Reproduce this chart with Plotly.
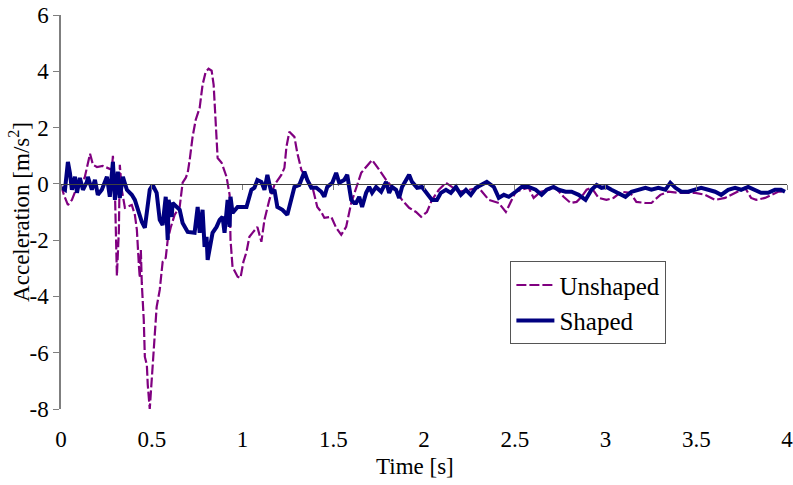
import plotly.graph_objects as go

# Unshaped response (time [s], acceleration [m/s^2])
t_unshaped = [0.00, 0.016, 0.038, 0.06, 0.082, 0.104, 0.13, 0.148, 0.16, 0.176, 0.198, 0.23, 0.258, 0.28,
              0.286, 0.297, 0.308, 0.319, 0.324, 0.335, 0.352, 0.374, 0.39, 0.407, 0.418, 0.429, 0.434,
              0.44, 0.445, 0.456, 0.462, 0.473, 0.478, 0.489, 0.5, 0.511, 0.527, 0.544, 0.56, 0.577, 0.588,
              0.604, 0.626, 0.654, 0.67, 0.687, 0.698, 0.709, 0.725, 0.742, 0.764, 0.78, 0.797, 0.813,
              0.83, 0.841, 0.852, 0.863, 0.885, 0.912, 0.929, 0.934, 0.945, 0.973, 0.989, 1.005, 1.022,
              1.038, 1.055, 1.082, 1.104, 1.121, 1.148, 1.176, 1.214, 1.231, 1.242, 1.258, 1.286, 1.302,
              1.324, 1.357, 1.385, 1.412, 1.434, 1.451, 1.489, 1.516, 1.544, 1.571, 1.599, 1.626, 1.654,
              1.681, 1.714, 1.753, 1.791, 1.846, 1.879, 1.918, 1.956, 1.984, 2.016, 2.044, 2.082, 2.121,
              2.154, 2.192, 2.247, 2.302, 2.357, 2.412, 2.451, 2.478, 2.505, 2.538, 2.577, 2.604, 2.643,
              2.687, 2.725, 2.769, 2.808, 2.841, 2.868, 2.896, 2.923, 2.962, 3.005, 3.044, 3.088, 3.137,
              3.17, 3.22, 3.253, 3.302, 3.346, 3.401, 3.445, 3.495, 3.549, 3.604, 3.659, 3.692, 3.769,
              3.802, 3.83, 3.879, 3.912, 3.951, 3.989]
a_unshaped = [-0.04, -0.39, -0.75, -0.57, -0.21, 0.07, 0.21, 0.78, 1.07, 0.68, 0.6, 0.64, 0.57, 0.5,
              1.0, -0.21, -3.27, -1.63, 0.68, -0.21, -0.85, -0.78, -0.75, -1.1, -1.63, -2.88, -3.34,
              -2.35, -3.52, -4.83, -6.15, -6.43, -7.14, -8.0, -6.97, -5.9, -4.37, -3.77, -2.77, -2.63, -1.99,
              -1.56, -1.1, -0.82, 0.04, 0.21, 0.39, 0.85, 1.67, 2.27, 2.7, 3.52, 3.98, 4.09,
              4.02, 3.52, 2.03, 0.92, 0.75, 0.25, -0.39, -1.99, -2.95, -3.3, -3.34, -2.77, -2.42,
              -1.88, -1.74, -1.53, -2.06, -1.28, -0.57, -0.04, 0.32, 0.57, 1.31, 1.85, 1.67, 1.1,
              0.5, 0.14, -0.11, -0.82, -1.0, -1.21, -1.17, -1.56, -1.81, -1.53, -0.68, -0.14, 0.39,
              0.6, 0.85, 0.5, 0.14, -0.28, -0.57, -0.85, -1.0, -1.17, -1.0, -0.57, -0.21, 0.04,
              -0.11, -0.28, -0.21, -0.14, -0.57, -0.68, -1.0, -0.64, -0.28, -0.21, -0.14, -0.5, -0.28,
              -0.21, -0.14, -0.46, -0.68, -0.64, -0.46, -0.21, -0.14, -0.5, -0.57, -0.5, -0.28, -0.32,
              -0.64, -0.68, -0.68, -0.39, -0.28, -0.32, -0.32, -0.32, -0.39, -0.57, -0.5, -0.39, -0.14,
              -0.5, -0.57, -0.5, -0.39, -0.28, -0.28]

# Shaped response
t_shaped = [0.005, 0.022, 0.038, 0.049, 0.06, 0.077, 0.088, 0.104, 0.121, 0.143, 0.148, 0.17, 0.187,
            0.203, 0.225, 0.242, 0.253, 0.269, 0.286, 0.297, 0.313, 0.324, 0.341, 0.363, 0.39, 0.407,
            0.423, 0.445, 0.462, 0.478, 0.489, 0.505, 0.527, 0.544, 0.56, 0.577, 0.588, 0.593, 0.61,
            0.615, 0.637, 0.654, 0.67, 0.698, 0.736, 0.753, 0.764, 0.78, 0.791, 0.802, 0.808, 0.819,
            0.835, 0.857, 0.874, 0.89, 0.901, 0.918, 0.929, 0.934, 0.945, 0.973, 1.0, 1.022, 1.049,
            1.066, 1.082, 1.104, 1.121, 1.137, 1.159, 1.176, 1.192, 1.22, 1.247, 1.269, 1.286, 1.313,
            1.341, 1.357, 1.379, 1.407, 1.434, 1.451, 1.467, 1.495, 1.516, 1.533, 1.56, 1.577, 1.599,
            1.615, 1.626, 1.643, 1.659, 1.681, 1.698, 1.714, 1.736, 1.764, 1.791, 1.808, 1.824, 1.846,
            1.863, 1.879, 1.901, 1.918, 1.934, 1.962, 1.989, 2.016, 2.044, 2.071, 2.093, 2.121, 2.148,
            2.176, 2.203, 2.231, 2.258, 2.286, 2.313, 2.346, 2.385, 2.412, 2.44, 2.467, 2.505, 2.538,
            2.577, 2.615, 2.648, 2.676, 2.714, 2.742, 2.78, 2.813, 2.852, 2.89, 2.923, 2.951, 2.978,
            3.005, 3.033, 3.071, 3.11, 3.143, 3.181, 3.22, 3.253, 3.291, 3.33, 3.357, 3.385, 3.418,
            3.456, 3.495, 3.527, 3.566, 3.604, 3.637, 3.676, 3.714, 3.747, 3.786, 3.824, 3.857, 3.896,
            3.934, 3.967, 3.989]
a_shaped = [-0.14, -0.21, 0.78, 0.39, -0.21, 0.25, -0.32, 0.21, -0.21, 0.07, 0.25, -0.21, 0.14,
            -0.39, -0.21, 0.07, 0.25, -0.46, 0.78, -0.57, 0.43, -0.5, 0.25, -0.21, -0.39, -0.57,
            -0.92, -1.35, -1.56, -0.82, -0.21, -0.04, -0.32, -1.28, -1.46, -0.46, -1.99, -0.57, -1.17,
            -0.68, -0.82, -0.92, -1.39, -1.71, -1.74, -0.82, -1.74, -0.92, -2.24, -1.88, -2.7, -2.24,
            -1.74, -1.53, -1.28, -1.17, -1.74, -0.57, -1.53, -0.46, -1.03, -0.82, -0.82, -0.82, -0.21,
            -0.14, 0.14, 0.07, -0.21, 0.32, -0.32, -0.21, -0.82, -0.92, -1.1, -0.57, -0.11, -0.04,
            0.43, 0.14, -0.14, -0.14, -0.28, -0.46, -0.11, 0.04, 0.39, 0.04, 0.14, 0.32, -0.57,
            -0.68, -0.68, -0.46, -0.82, -0.32, -0.11, -0.32, -0.11, -0.28, 0.07, -0.32, -0.11, -0.21,
            -0.5, -0.11, 0.14, 0.32, 0.07, -0.14, -0.11, -0.32, -0.57, -0.57, -0.32, -0.21, -0.32,
            -0.11, -0.39, -0.21, -0.39, -0.14, -0.04, 0.07, -0.11, -0.5, -0.39, -0.46, -0.28, -0.11,
            -0.11, -0.21, -0.39, -0.21, -0.11, -0.21, -0.28, -0.28, -0.39, -0.57, -0.21, -0.04, -0.14,
            -0.11, -0.21, -0.32, -0.46, -0.28, -0.21, -0.14, -0.21, -0.14, -0.21, 0.04, -0.14, -0.28,
            -0.28, -0.21, -0.14, -0.21, -0.28, -0.39, -0.21, -0.14, -0.21, -0.11, -0.21, -0.32, -0.32,
            -0.21, -0.21, -0.28]

x_ticks = [0, 0.5, 1, 1.5, 2, 2.5, 3, 3.5, 4]
x_tick_labels = ["0", "0.5", "1", "1.5", "2", "2.5", "3", "3.5", "4"]
y_ticks = [-8, -6, -4, -2, 0, 2, 4, 6]
y_tick_labels = ["-8", "-6", "-4", "-2", "0", "2", "4", "6"]

FONT = "'Liberation Serif', 'Times New Roman', Times, 'DejaVu Serif', serif"
AXIS_COL = "#7f7f7f"

fig = go.Figure()
fig.add_trace(go.Scatter(x=t_unshaped, y=a_unshaped, mode="lines", name="Unshaped",
                         line=dict(color="#800080", width=2.2, dash="10px,3px")))
fig.add_trace(go.Scatter(x=t_shaped, y=a_shaped, mode="lines", name="Shaped",
                         line=dict(color="#000080", width=4)))

fig.update_layout(
    width=793, height=485,
    margin=dict(l=61, r=6, t=15, b=76, autoexpand=False),
    paper_bgcolor="white", plot_bgcolor="white",
    font=dict(family=FONT, size=23, color="black"),
    showlegend=True,
    legend=dict(x=0.619, y=0.375, xanchor="left", yanchor="top",
                bgcolor="white", bordercolor="#555555", borderwidth=1,
                font=dict(family=FONT, size=25), tracegroupgap=0, itemwidth=38),
    xaxis=dict(range=[0, 4], tickvals=x_ticks, ticktext=x_tick_labels, automargin=False,
               showgrid=False, zeroline=False, showline=False, ticks="",
               ticklabelstandoff=14, ticklabeloverflow="allow", fixedrange=True),
    xaxis2=dict(range=[0, 4], overlaying="x", anchor="free", position=8 / 14,
                side="bottom", tickvals=x_ticks, showticklabels=False, automargin=False,
                showgrid=False, zeroline=False, showline=True, linecolor="#404040",
                linewidth=1, ticks="outside", ticklen=5, tickcolor=AXIS_COL),
    yaxis=dict(range=[-8, 6], tickvals=y_ticks, ticktext=y_tick_labels, automargin=False,
               showgrid=False, zeroline=False, showline=True, linecolor=AXIS_COL,
               linewidth=1.5, ticks="outside", ticklen=6, tickcolor=AXIS_COL,
               ticklabeloverflow="allow"),
    annotations=[
        dict(text="Time [s]", xref="paper", yref="paper", x=0.488, y=-0.145,
             xanchor="center", yanchor="middle", showarrow=False,
             font=dict(family=FONT, size=23)),
        dict(text="Acceleration [m/s<sup>2</sup>]", xref="paper", yref="paper",
             x=-0.058, y=0.5, xanchor="center", yanchor="middle", textangle=-90,
             showarrow=False, font=dict(family=FONT, size=23)),
    ],
)
# invisible helper trace that activates xaxis2 (the axis line crossing at y = 0)
fig.add_trace(go.Scatter(x=[0, 4], y=[0, 0], xaxis="x2", mode="lines",
                         line=dict(width=0), hoverinfo="skip", showlegend=False))

fig.write_html("out.html", config={"displayModeBar": False},
               post_script="document.body.style.margin='0px';")
